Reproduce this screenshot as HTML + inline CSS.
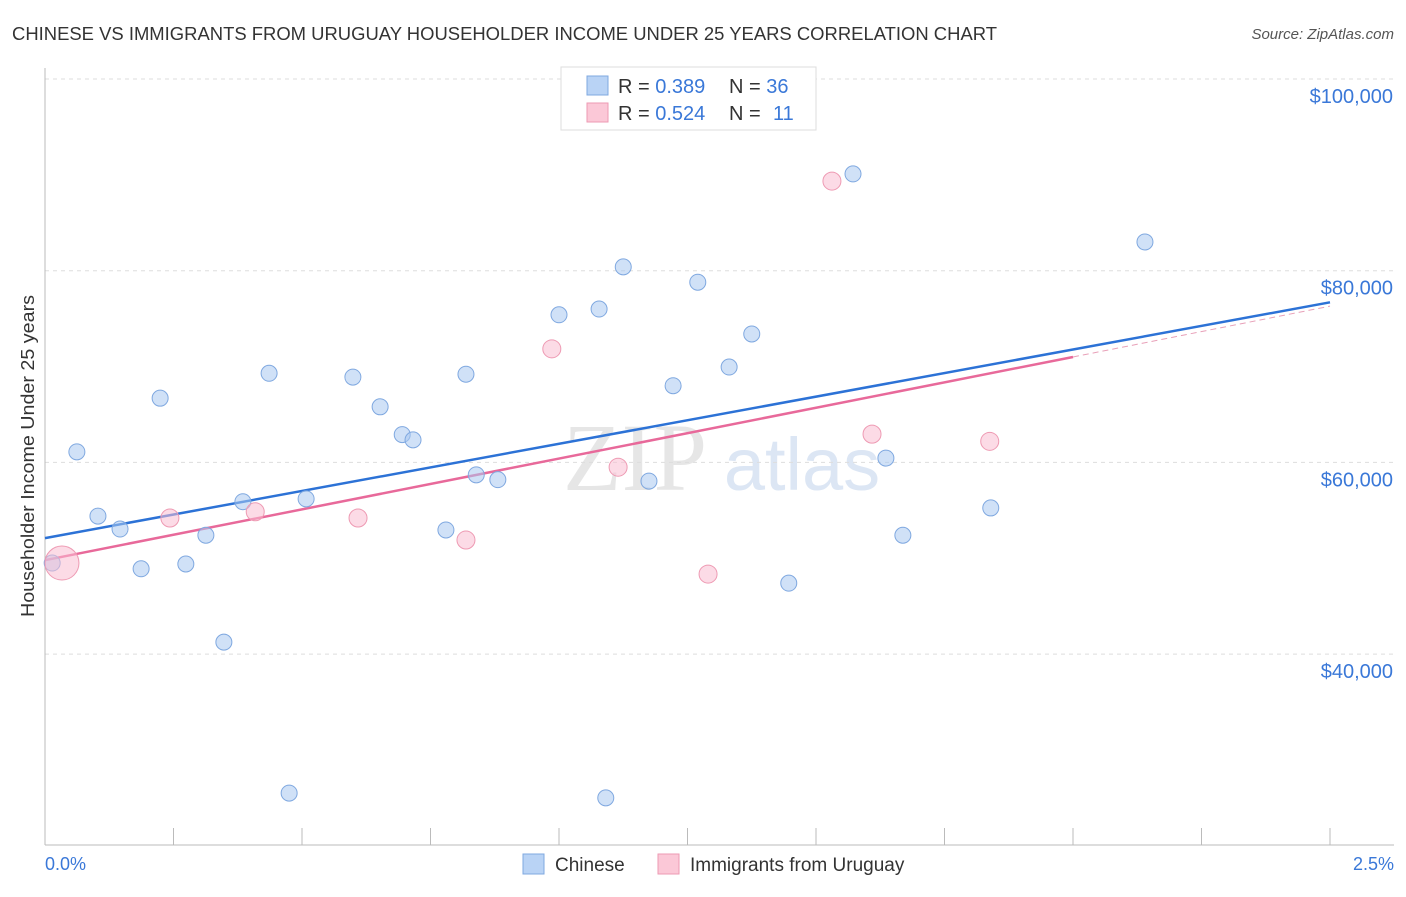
<!DOCTYPE html>
<html><head><meta charset="utf-8"><style>
body{margin:0;background:#fff;font-family:"Liberation Sans",sans-serif;}
</style></head><body>
<svg id="chart" width="1406" height="892" xmlns="http://www.w3.org/2000/svg">
<text x="12" y="40" font-size="18" fill="#333" textLength="985" lengthAdjust="spacingAndGlyphs">CHINESE VS IMMIGRANTS FROM URUGUAY HOUSEHOLDER INCOME UNDER 25 YEARS CORRELATION CHART</text>
<text x="1394" y="39" font-size="15" fill="#555" font-style="italic" text-anchor="end">Source: ZipAtlas.com</text>
<text x="635" y="490" font-size="96" fill="#e6e6e6" font-family="Liberation Serif,serif" text-anchor="middle">ZIP</text>
<text x="802" y="490" font-size="74" fill="#dce6f4" text-anchor="middle">atlas</text>
<g id="grid"></g>
<g id="axes"></g>
<g id="lines"></g>
<g id="pts"></g>
<text transform="translate(34,456) rotate(-90)" font-size="18" fill="#333" text-anchor="middle" textLength="322" lengthAdjust="spacingAndGlyphs">Householder Income Under 25 years</text>
<text x="45" y="870" font-size="18" fill="#3a78d8">0.0%</text>
<text x="1394" y="870" font-size="18" fill="#3a78d8" text-anchor="end">2.5%</text>
<g>
<rect x="561" y="67" width="255" height="63" fill="#fff" stroke="#ddd"/>
<rect x="587" y="76" width="21" height="19" fill="#b9d3f5" stroke="#7fa8e0"/>
<rect x="587" y="103" width="21" height="19" fill="#fbc8d7" stroke="#ee9ab3"/>
<text x="618" y="93" font-size="20" fill="#333">R = <tspan fill="#3a78d8">0.389</tspan><tspan x="729">N = </tspan><tspan fill="#3a78d8">36</tspan></text>
<text x="618" y="120" font-size="20" fill="#333">R = <tspan fill="#3a78d8">0.524</tspan><tspan x="729">N = </tspan><tspan x="773" fill="#3a78d8">11</tspan></text>
</g>
<g>
<rect x="523" y="854" width="21" height="20" fill="#b9d3f5" stroke="#7fa8e0"/>
<text x="555" y="871" font-size="19" fill="#333">Chinese</text>
<rect x="658" y="854" width="21" height="20" fill="#fbc8d7" stroke="#ee9ab3"/>
<text x="690" y="871" font-size="19" fill="#333">Immigrants from Uruguay</text>
</g>
</svg>
<script>
const yTicks=[40000,60000,80000,100000];
const yTickLabels=["$40,000","$60,000","$80,000","$100,000"];
const blueX=[0.014,0.062,0.103,0.146,0.187,0.224,0.274,0.313,0.348,0.385,0.436,0.475,0.508,0.599,0.652,0.695,0.716,0.780,0.819,0.839,0.881,1.000,1.078,1.091,1.125,1.175,1.222,1.270,1.331,1.375,1.447,1.572,1.636,1.669,1.840,2.140];
const blueY=[49500,61100,54400,53050,48900,66700,49400,52400,41250,55900,69300,25500,56200,68900,65800,62900,62350,52950,69200,58700,58200,75400,76000,25000,80400,58050,68000,78800,69950,73400,47400,90100,60450,52400,55250,83000];
const pinkX=[0.033,0.243,0.409,0.609,0.819,0.986,1.115,1.290,1.531,1.609,1.838];
const pinkY=[49500,54200,54850,54200,51900,71850,59500,48350,89350,62950,62200];
const pinkR=[17,9,9,9,9,9,9,9,9,9,9];
const blueTrend=[52100,76700];
const pinkTrend=[49800,76300];
const pinkSolidEnd=2.0;
const NS="http://www.w3.org/2000/svg";
const sx=v=>45+v/2.5*1285;
const sy=v=>79+(100000-v)/20000*191.7;
function mk(t,a,p){const e=document.createElementNS(NS,t);for(const k in a)e.setAttribute(k,a[k]);document.getElementById(p).appendChild(e);return e;}
yTicks.forEach((t,i)=>{
 const g=mk('line',{x1:45,x2:1394,y1:sy(t),y2:sy(t),stroke:'#ddd','stroke-dasharray':'4,4'},'grid');
 
 
 const l=mk('text',{x:1393,y:sy(t)+24,'font-size':20,fill:'#3a78d8','text-anchor':'end'},'axes');
 l.textContent=yTickLabels[i];
 
 
});
const ax=mk('line',{x1:45,x2:45,y1:68,y2:845,stroke:'#bbb'},'axes');


const bx=mk('line',{x1:45,x2:1394,y1:845,y2:845,stroke:'#bbb'},'axes');


for(let i=1;i<=10;i++){const t=mk('line',{x1:sx(i*0.25),x2:sx(i*0.25),y1:828,y2:845,stroke:'#bbb'},'axes');
 
 }
const bl=mk('line',{x1:sx(0),y1:sy(blueTrend[0]),x2:sx(2.5),y2:sy(blueTrend[1]),stroke:'#2c72d6','stroke-width':2.5},'lines');


const pe=pinkTrend[0]+(pinkTrend[1]-pinkTrend[0])*pinkSolidEnd/2.5;
const pl=mk('line',{x1:sx(0),y1:sy(pinkTrend[0]),x2:sx(pinkSolidEnd),y2:sy(pe),stroke:'#e8699a','stroke-width':2.5},'lines');


const pd=mk('line',{x1:sx(pinkSolidEnd),y1:sy(pe),x2:sx(2.5),y2:sy(pinkTrend[1]),stroke:'#e8a0b8','stroke-width':1,'stroke-dasharray':'6,4'},'lines');


blueX.forEach((x,i)=>{const c=mk('circle',{cx:sx(x),cy:sy(blueY[i]),r:8,fill:'rgba(170,200,240,0.55)',stroke:'#7fa8e0','stroke-width':1},'pts');
 
 });
pinkX.forEach((x,i)=>{const c=mk('circle',{cx:sx(x),cy:sy(pinkY[i]),r:pinkR[i],fill:'rgba(250,190,210,0.55)',stroke:'#ee9ab3','stroke-width':1},'pts');
 
 });
</script>
</body></html>
